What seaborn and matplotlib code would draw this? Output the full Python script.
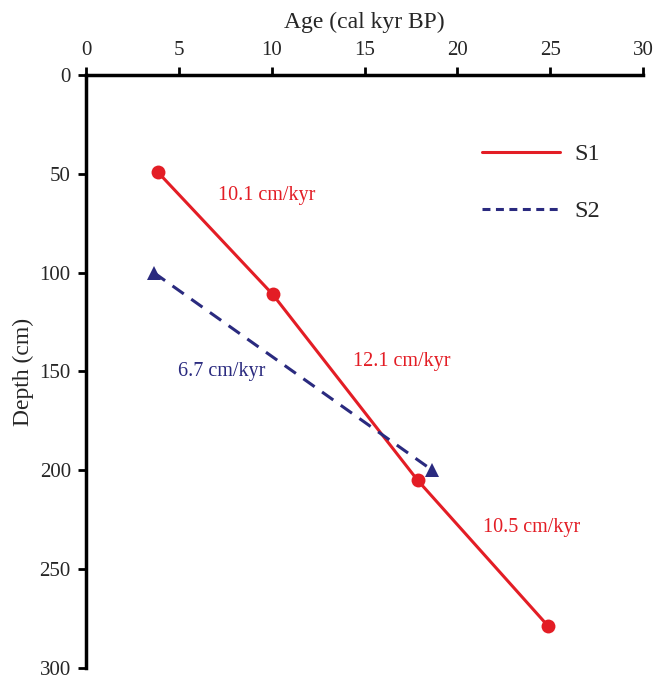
import pandas as pd
import matplotlib
matplotlib.use('Agg')
import matplotlib.pyplot as plt
import seaborn as sns

# age (cal kyr BP) and depth (cm) of dated levels
s1_age = [3.85, 10.05, 17.85, 24.9]
s1_depth = [49, 111, 205, 279]
s2_age = [3.65, 18.65]
s2_depth = [100, 200]

rate_labels = ['10.1 cm/kyr', '12.1 cm/kyr', '6.7 cm/kyr', '10.5 cm/kyr']
rate_x = [9.7, 17.0, 7.3, 24.0]
rate_y = [61, 145, 150, 229]
rate_core = ['S1', 'S1', 'S2', 'S1']

red = '#e31d25'
navy = '#2a2a7f'

sns.set_style('ticks')
plt.rcParams['font.family'] = ['Liberation Serif', 'DejaVu Serif']
plt.rcParams['axes.unicode_minus'] = False


def main():
    df = pd.DataFrame({
        'age': s1_age + s2_age,
        'depth': s1_depth + s2_depth,
        'core': ['S1'] * len(s1_age) + ['S2'] * len(s2_age),
    })

    fig = plt.figure(figsize=(6.57, 6.75), dpi=100)
    ax = fig.add_axes([0.131, 0.0104, 0.848, 0.8785])

    sns.lineplot(data=df, x='age', y='depth', hue='core', style='core',
                 palette={'S1': red, 'S2': navy},
                 markers={'S1': 'o', 'S2': '^'},
                 dashes={'S1': '', 'S2': (4.5, 3)},
                 markersize=10, markeredgewidth=0, linewidth=2.2,
                 sort=False, ax=ax)

    for txt, x, y, c in zip(rate_labels, rate_x, rate_y, rate_core):
        ax.text(x, y, txt, color=red if c == 'S1' else navy,
                fontsize=14.5, ha='center', va='center')

    ax.set_xlim(0, 30)
    ax.set_ylim(300, 0)
    ax.set_xticks(range(0, 31, 5))
    ax.set_yticks(range(0, 301, 50))
    ax.xaxis.tick_top()
    ax.xaxis.set_label_position('top')
    ax.set_xlabel('Age (cal kyr BP)', fontsize=17, labelpad=9)
    ax.set_ylabel('Depth (cm)', fontsize=17, labelpad=4)
    ax.tick_params(axis='both', labelsize=15, width=2, length=6,
                   direction='out', color='black', pad=5)
    for side in ['right', 'bottom']:
        ax.spines[side].set_visible(False)
    for side in ['left', 'top']:
        ax.spines[side].set_linewidth(2.5)
        ax.spines[side].set_color('black')

    leg = ax.legend(loc='upper left', bbox_to_anchor=(0.711, 0.885),
                    frameon=False, fontsize=17.5, handlelength=3.2,
                    labelspacing=1.45, handletextpad=0.6,
                    borderpad=0, borderaxespad=0)
    for line in leg.get_lines():
        line.set_marker('')
    leg.get_lines()[1].set_dashes((2.6, 1.8))

    fig.savefig('out.png', dpi=100)


if __name__ == '__main__':
    main()
